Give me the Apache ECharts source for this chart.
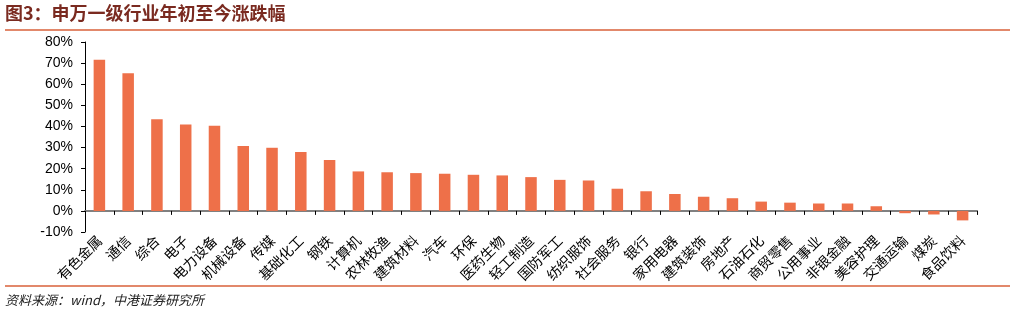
<!DOCTYPE html>
<html><head><meta charset="utf-8">
<script src="https://cdn.jsdelivr.net/npm/echarts@6/dist/echarts.min.js"></script>
<style>html,body{margin:0;padding:0;background:#fff}#c{width:1016px;height:315px}</style>
</head><body><div id="c"></div>
<script>
const categories = ['有色金属','通信','综合','电子','电力设备','机械设备','传媒','基础化工','钢铁','计算机','农林牧渔','建筑材料','汽车','环保','医药生物','轻工制造','国防军工','纺织服饰','社会服务','银行','家用电器','建筑装饰','房地产','石油石化','商贸零售','公用事业','非银金融','美容护理','交通运输','煤炭','食品饮料'];
const values = [71.6,65.2,43.4,40.9,40.3,30.7,29.9,27.9,24.1,18.7,18.3,17.9,17.6,17.1,16.8,16.0,14.7,14.4,10.5,9.3,8.0,6.7,6.0,4.4,3.9,3.5,3.5,2.2,-1.1,-1.7,-4.5];
const yTicks = {min:-10, max:80, interval:10};
const titleText = '图3：申万一级行业年初至今涨跌幅';
const sourceText = '资料来源：wind，中港证券研究所';

const chart = echarts.init(document.getElementById('c'));
chart.setOption({
  animation:false,
  grid:{left:85,right:39,top:42,bottom:83,containLabel:false},
  xAxis:{type:'category',data:categories,
    axisLine:{onZero:true,lineStyle:{color:'#808080',width:2}},
    axisTick:{show:true,inside:false,length:4,lineStyle:{color:'#000',width:1},alignWithLabel:false},
    axisLabel:{rotate:45,interval:0,margin:6,color:'#000',fontSize:14,fontFamily:'"Noto Sans CJK SC"'},
    splitLine:{show:false}},
  yAxis:{type:'value',min:yTicks.min,max:yTicks.max,interval:yTicks.interval,
    axisLine:{show:true,lineStyle:{color:'#000',width:1}},
    axisTick:{show:true,length:4,lineStyle:{color:'#000'}},
    axisLabel:{formatter:'{value}%',color:'#000',fontSize:14,margin:12,fontFamily:'"Liberation Sans", Arial'},
    splitLine:{show:false}},
  series:[{type:'bar',data:values,barWidth:'40%',itemStyle:{color:'#EE7049'}}],
  graphic:[
    {type:'text',left:5,top:4,style:{text:titleText,fill:'#7a2a20',font:'bold 18px "Noto Sans CJK SC"'}},
    {type:'line',shape:{x1:5,y1:30,x2:1010,y2:30},style:{stroke:'#d9603a',lineWidth:1.5}},
    {type:'line',shape:{x1:5,y1:286,x2:1010,y2:286},style:{stroke:'#d9603a',lineWidth:1.5}},
    {type:'text',left:5,top:294,style:{text:sourceText,fill:'#222',font:'italic 13px "Noto Sans CJK SC"'}}
  ]
});
</script></body></html>
